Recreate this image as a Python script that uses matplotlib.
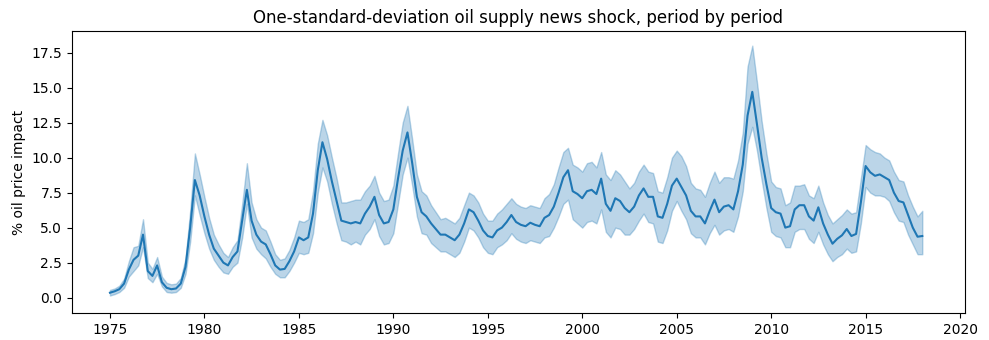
import numpy as np
import pandas as pd
import matplotlib
matplotlib.use("Agg")
import matplotlib.pyplot as plt

start = "1975-01-01"

median = [
    0.35, 0.45, 0.6, 1.0,   # 1975
    2.0, 2.7, 3.0, 4.5,     # 1976
    1.9, 1.55, 2.3, 1.1,    # 1977
    0.7, 0.6, 0.65, 1.0,    # 1978
    2.2, 5.0, 8.4, 7.3,     # 1979
    5.8, 4.5, 3.5, 3.0,     # 1980
    2.5, 2.3, 2.9, 3.3,     # 1981
    5.5, 7.7, 5.5, 4.5,     # 1982
    4.0, 3.8, 3.1, 2.3,     # 1983
    2.0, 2.05, 2.6, 3.3,    # 1984
    4.3, 4.1, 4.3, 6.0,     # 1985
    9.1, 11.1, 9.9, 8.3,    # 1986
    6.9, 5.5, 5.4, 5.3,     # 1987
    5.4, 5.3, 6.0, 6.5,     # 1988
    7.2, 5.9, 5.3, 5.4,     # 1989
    6.3, 8.5, 10.5, 11.8,   # 1990
    9.6, 7.2, 6.1, 5.8,     # 1991
    5.3, 4.9, 4.5, 4.5,     # 1992
    4.3, 4.1, 4.5, 5.3,     # 1993
    6.3, 6.1, 5.5, 4.8,     # 1994
    4.4, 4.3, 4.8, 5.0,     # 1995
    5.4, 5.9, 5.4, 5.2,     # 1996
    5.1, 5.35, 5.2, 5.1,    # 1997
    5.7, 5.9, 6.5, 7.5,     # 1998
    8.6, 9.1, 7.6, 7.4,     # 1999
    7.1, 7.6, 7.7, 7.4,     # 2000
    8.5, 6.7, 6.2, 7.1,     # 2001
    6.9, 6.4, 6.1, 6.5,     # 2002
    7.3, 7.8, 7.2, 7.2,     # 2003
    5.8, 5.7, 6.7, 8.0,     # 2004
    8.5, 7.9, 7.3, 6.2,     # 2005
    5.8, 5.8, 5.3, 6.2,     # 2006
    7.0, 6.1, 6.5, 6.6,     # 2007
    6.3, 7.6, 9.5, 13.0,    # 2008
    14.7, 12.4, 10.0, 8.1,  # 2009
    6.4, 6.1, 6.0, 5.0,     # 2010
    5.1, 6.3, 6.6, 6.6,     # 2011
    5.8, 5.5, 6.45, 5.3,    # 2012
    4.5, 3.85, 4.2, 4.45,   # 2013
    4.9, 4.4, 4.55, 6.8,    # 2014
    9.4, 8.95, 8.7, 8.8,    # 2015
    8.6, 8.4, 7.5, 6.9,     # 2016
    6.8, 5.9, 5.0, 4.35,    # 2017
    4.4,                    # 2018
]

lower = [
    0.15, 0.25, 0.4, 0.7,
    1.5, 1.9, 2.3, 3.6,
    1.4, 1.1, 1.7, 0.8,
    0.4, 0.35, 0.4, 0.7,
    1.7, 4.0, 7.3, 5.9,
    4.6, 3.5, 2.7, 2.2,
    1.8, 1.7, 2.2, 2.5,
    4.3, 6.7, 4.3, 3.5,
    3.1, 2.8, 2.2, 1.7,
    1.45, 1.45, 1.9, 2.5,
    3.2, 3.1, 3.2, 4.6,
    7.5, 9.3, 8.3, 6.7,
    5.3, 4.1, 4.0, 3.8,
    4.0, 3.8, 4.5, 4.9,
    5.6, 4.4, 3.8, 3.9,
    4.6, 6.7, 8.8, 10.0,
    8.0, 5.8, 4.6, 4.5,
    3.9, 3.6, 3.3, 3.3,
    3.1, 2.9, 3.2, 4.0,
    5.0, 4.8, 4.3, 3.6,
    3.2, 3.1, 3.6, 3.8,
    4.1, 4.6, 4.2, 4.0,
    3.9, 4.1, 4.0, 3.9,
    4.3, 4.4, 5.0, 5.8,
    6.7, 7.0, 5.6, 5.3,
    5.0, 5.4, 5.5, 5.3,
    6.3, 4.7, 4.3, 5.0,
    4.9, 4.5, 4.5, 4.9,
    5.5, 6.0, 5.4, 5.3,
    4.0, 3.9, 4.8, 6.2,
    6.9, 6.2, 5.6, 4.6,
    4.3, 4.3, 3.8, 4.6,
    5.2, 4.5, 4.8, 4.9,
    4.7, 5.8, 7.6, 11.0,
    12.2, 10.5, 8.4, 6.4,
    4.7, 4.4, 4.3, 3.6,
    3.6, 4.7, 4.9, 4.9,
    4.2, 3.9, 4.7, 3.8,
    3.1, 2.6, 2.9, 3.1,
    3.5, 3.2, 3.3, 5.3,
    7.9, 7.5, 7.3, 7.3,
    7.2, 6.9, 6.1, 5.5,
    5.4, 4.5, 3.8, 3.1,
    3.1,
]

upper = [
    0.55, 0.65, 0.85, 1.35,
    2.6, 3.6, 3.7, 5.6,
    2.5, 2.05, 2.9, 1.5,
    1.05, 0.95, 1.0, 1.4,
    2.8, 6.2, 10.3, 8.8,
    7.2, 5.7, 4.5, 3.8,
    3.2, 2.9, 3.6, 4.1,
    6.7, 9.6, 6.8, 5.6,
    5.0, 4.8, 4.0, 3.1,
    2.7, 2.8, 3.4, 4.3,
    5.5, 5.4, 5.6, 7.6,
    11.0, 12.7, 11.6, 10.0,
    8.5, 6.8, 6.8, 6.9,
    7.0, 7.0, 7.6, 8.0,
    8.7, 7.5, 6.9, 7.0,
    8.0, 10.3, 12.5, 13.7,
    11.3, 8.8, 7.6, 7.3,
    6.6, 6.1, 5.6, 5.7,
    5.5, 5.3, 5.7, 6.6,
    7.5, 7.3, 6.8, 6.0,
    5.5, 5.5, 6.0, 6.3,
    6.7, 7.1, 6.7, 6.5,
    6.4, 6.6, 6.5, 6.4,
    7.1, 7.4, 8.1, 9.3,
    10.4, 10.7, 9.5, 9.3,
    9.0, 9.6, 9.7, 9.3,
    10.4, 8.8, 8.4, 9.1,
    8.8, 8.3, 7.8, 8.2,
    9.0, 9.5, 9.0, 8.9,
    7.6, 7.5, 8.6, 10.0,
    10.5, 10.1, 9.4, 8.2,
    7.8, 7.7, 7.2, 8.2,
    9.0, 8.2, 8.6, 8.6,
    8.5, 9.8, 11.8, 16.5,
    18.0, 15.4, 12.6, 10.3,
    8.3, 7.9, 7.8, 6.6,
    6.8, 8.0, 8.0, 8.1,
    7.3, 7.1, 8.0, 6.8,
    5.9, 5.3, 5.6, 5.9,
    6.3, 6.0, 6.1, 8.5,
    10.9, 10.6, 10.4, 10.3,
    10.0, 9.8, 9.0, 8.4,
    8.3, 7.3, 6.5, 5.8,
    6.2,
]

dates = pd.date_range(start, periods=len(median), freq="QS")

fig, ax = plt.subplots(figsize=(9.89, 3.4), dpi=100)
fig.subplots_adjust(left=0.0728, right=0.9757, top=0.909, bottom=0.0794)
ax.fill_between(dates, lower, upper, color="C0", alpha=0.3)
ax.plot(dates, median, color="C0", linewidth=1.5)
ax.set_xlim(pd.Timestamp("1972-12-28"), pd.Timestamp("2020-04-05"))
ax.set_ylim(-1.1, 19.05)
ax.set_title("One-standard-deviation oil supply news shock, period by period")
ax.set_ylabel("% oil price impact")
fig.savefig("out.png", dpi=100)
